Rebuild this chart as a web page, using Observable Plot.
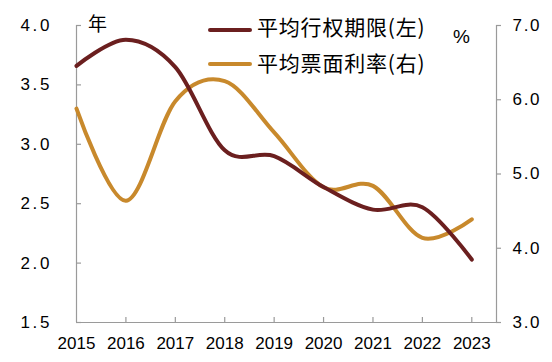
<!DOCTYPE html>
<html>
<head>
<meta charset="utf-8">
<script src="https://cdn.jsdelivr.net/npm/d3@7"></script>
<script src="https://cdn.jsdelivr.net/npm/@observablehq/plot@0.6"></script>
<style>
  html, body { margin: 0; padding: 0; background: #fff; }
  #wrap { position: relative; width: 552px; height: 362px; font-family: "Liberation Sans", Arial, "Noto Sans CJK SC", sans-serif; color: #000; }
  .lbl { position: absolute; white-space: nowrap; line-height: 1; font-family: "Noto Sans CJK SC", sans-serif; }
  .sw { position: absolute; left: 208px; width: 44px; height: 4px; border-radius: 2px; }
  .tx { position: absolute; left: 257px; white-space: nowrap; font-family: "Noto Sans CJK SC", sans-serif; font-size: 21px; letter-spacing: 0.8px; line-height: 1; }
</style>
</head>
<body>
<div id="wrap"></div>
<script>
// ---- data ----
const years = [2015, 2016, 2017, 2018, 2019, 2020, 2021, 2022, 2023];
const avgTerm = [3.66, 3.88, 3.65, 2.95, 2.90, 2.64, 2.45, 2.47, 2.03];     // 平均行权期限 (左, 年)
const avgCoupon = [5.88, 4.64, 5.98, 6.25, 5.56, 4.82, 4.84, 4.14, 4.39];  // 平均票面利率 (右, %)
const leftTicks = [1.5, 2.0, 2.5, 3.0, 3.5, 4.0];
const rightTicks = [3.0, 4.0, 5.0, 6.0, 7.0];
const seriesNames = ["平均行权期限(左)", "平均票面利率(右)"];
const colors = ["#6b1f1f", "#c8892c"];

// map right axis (3..7) onto left axis (1.5..4.0)
const toLeft = v => 1.5 + (v - 3) * (2.5 / 4);

const termData = years.map((y, i) => ({year: y, v: avgTerm[i]}));
const couponData = years.map((y, i) => ({year: y, v: toLeft(avgCoupon[i])}));

const axisColor = "#9a9a9a";
const xMax = 2023.5;

const chart = Plot.plot({
  width: 552,
  height: 362,
  marginLeft: 76,
  marginRight: 56,
  marginTop: 25,
  marginBottom: 40,
  style: {fontFamily: "'Liberation Sans', Arial, sans-serif", fontSize: "17px", color: "#000", background: "#fff"},
  x: {domain: [2015, xMax], axis: null},
  y: {domain: [1.5, 4.0], axis: null},
  marks: [
    // axis lines
    Plot.ruleX([2015], {stroke: axisColor, strokeWidth: 1.2}),
    Plot.ruleX([xMax], {stroke: axisColor, strokeWidth: 1.2}),
    Plot.ruleY([1.5], {stroke: axisColor, strokeWidth: 1.2, insetRight: -4}),
    // tick marks
    Plot.ruleY(leftTicks, {y: d => d, x1: () => 2015, x2: () => 2015, insetRight: -5, stroke: axisColor, strokeWidth: 1.2}),
    Plot.ruleY(rightTicks, {y: d => toLeft(d), x1: () => xMax, x2: () => xMax, insetRight: -5, stroke: axisColor, strokeWidth: 1.2}),
    Plot.ruleX(years.slice(1), {x: d => d, y1: () => 1.5, y2: () => 1.5, insetTop: -5, stroke: axisColor, strokeWidth: 1.2}),
    // tick labels (order matters for post-styling below)
    Plot.text(leftTicks, {x: () => 2015, y: d => d, text: d => d.toFixed(1), dx: -24.3, textAnchor: "end", fontSize: 17, fill: "#000"}),
    Plot.text(rightTicks, {x: () => xMax, y: d => toLeft(d), text: d => d.toFixed(1), dx: 16, textAnchor: "start", fontSize: 17, fill: "#000"}),
    Plot.text(years, {x: d => d, y: () => 1.5, text: d => String(d), dy: 21, fontSize: 17, fill: "#000"}),
    // series
    Plot.line(couponData, {x: "year", y: "v", stroke: colors[1], strokeWidth: 4, curve: "cardinal"}),
    Plot.line(termData, {x: "year", y: "v", stroke: colors[0], strokeWidth: 4, curve: "cardinal"})
  ]
});

const wrap = document.getElementById("wrap");
wrap.appendChild(chart);
const textGroups = chart.querySelectorAll('g[aria-label="text"]');
if (textGroups[0]) textGroups[0].querySelectorAll("text").forEach(t => t.setAttribute("letter-spacing", "2.7"));
if (textGroups[1]) textGroups[1].querySelectorAll("text").forEach(t => t.setAttribute("letter-spacing", "1.7"));

function addLabel(text, left, top, size, family) {
  const d = document.createElement("div");
  d.className = "lbl";
  d.textContent = text;
  d.style.left = left + "px";
  d.style.top = top + "px";
  d.style.fontSize = size + "px";
  if (family) d.style.fontFamily = family;
  wrap.appendChild(d);
}
addLabel("年", 88, 13, 19);
addLabel("%", 453, 27, 19, "'Liberation Sans', Arial, sans-serif");

seriesNames.forEach((name, i) => {
  const sw = document.createElement("div");
  sw.className = "sw";
  sw.style.background = colors[i];
  sw.style.top = (28 + i * 33.5) + "px";
  wrap.appendChild(sw);
  const tx = document.createElement("div");
  tx.className = "tx";
  tx.textContent = name;
  tx.style.top = (16 + i * 35.5) + "px";
  wrap.appendChild(tx);
});
</script>
</body>
</html>
